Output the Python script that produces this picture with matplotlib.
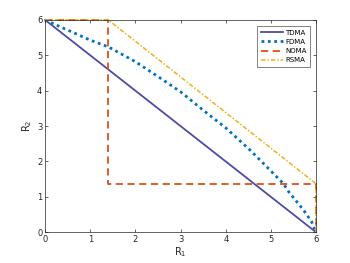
import matplotlib
matplotlib.use("Agg")
import matplotlib.pyplot as plt

# rate region boundaries
tdma_r1 = [0, 6]
tdma_r2 = [6, 0]

fdma_r1 = [0, 0.33, 1.0, 1.4, 2.0, 2.5, 3.0, 3.5, 4.0, 4.54, 4.83, 5.28, 5.39, 5.72, 5.9, 6.0]
fdma_r2 = [6, 5.81, 5.43, 5.24, 4.82, 4.40, 3.97, 3.45, 2.95, 2.32, 1.95, 1.37, 1.15, 0.63, 0.3, 0]

noma_r1 = [0, 1.4, 1.4, 6, 6]
noma_r2 = [6, 6, 1.37, 1.37, 0]

rsma_r1 = [0, 1.4, 6, 6]
rsma_r2 = [6, 6, 1.37, 0]

fig = plt.figure(figsize=(3.5, 2.63), dpi=100)
ax = fig.add_axes([0.129, 0.117, 0.774, 0.807])

ax.plot(tdma_r1, tdma_r2, color="#4C4CA6", lw=1.3, label="TDMA", clip_on=False)
ax.plot(fdma_r1, fdma_r2, color="#0072BD", lw=2.0, ls=(0, (1, 1.3)), label="FDMA", clip_on=False)
ax.plot(noma_r1, noma_r2, color="#D95319", lw=1.3, ls=(0, (4, 2.5)), label="NOMA", clip_on=False)
ax.plot(rsma_r1, rsma_r2, color="#EDB120", lw=1.1, ls=(0, (3, 1.2, 1, 1.2)), label="RSMA", clip_on=False)

ax.set_xlim(0, 6)
ax.set_ylim(0, 6)
ax.set_xticks(range(7))
ax.set_yticks(range(7))
ax.tick_params(direction="in", top=True, right=True, labelsize=6, length=2.5,
               width=0.5, colors="#262626", pad=2)
for s in ax.spines.values():
    s.set_linewidth(0.5)
    s.set_color("#262626")

ax.set_xlabel("R$_1$", fontsize=7, color="#262626", labelpad=1)
ax.set_ylabel("R$_2$", fontsize=7, color="#262626", labelpad=2)

leg = ax.legend(loc="upper right", fontsize=5, frameon=True, fancybox=False,
                edgecolor="#262626", handlelength=3.2, handletextpad=0.3,
                borderpad=0.5, labelspacing=0.45, borderaxespad=0.9)
leg.get_frame().set_linewidth(0.5)

fig.savefig("out.png", dpi=100)
